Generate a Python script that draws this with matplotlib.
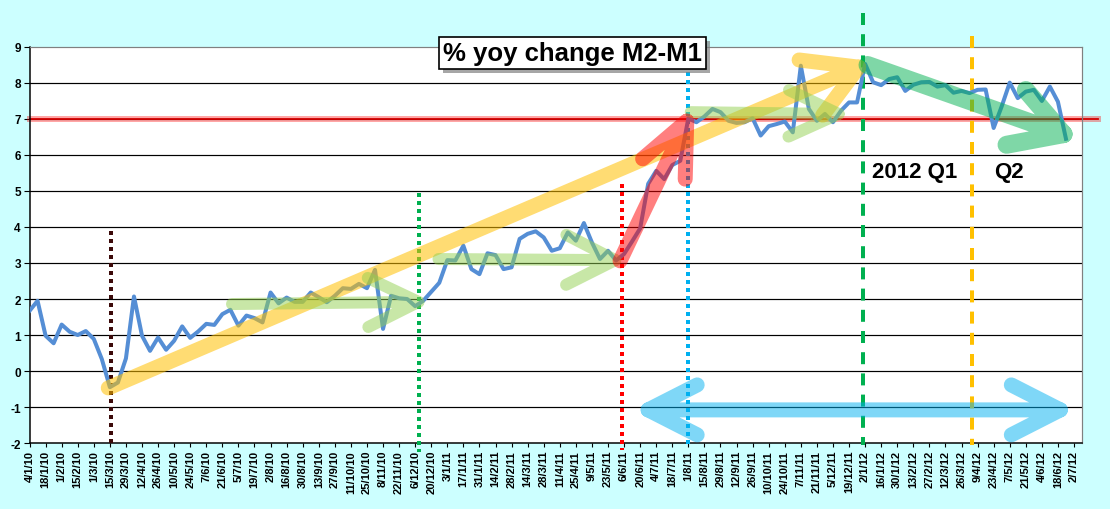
import numpy as np
import matplotlib.pyplot as plt
from matplotlib.path import Path
from matplotlib.patches import PathPatch
import matplotlib.patheffects as pe

plt.rcParams['font.family'] = ['Liberation Sans', 'DejaVu Sans']
plt.rcParams['axes.unicode_minus'] = False

# weekly observations, labels shown every 2nd week
week_labels = ["4/1/10", "18/1/10", "1/2/10", "15/2/10", "1/3/10", "15/3/10", "29/3/10",
               "12/4/10", "26/4/10", "10/5/10", "24/5/10", "7/6/10", "21/6/10", "5/7/10",
               "19/7/10", "2/8/10", "16/8/10", "30/8/10", "13/9/10", "27/9/10", "11/10/10",
               "25/10/10", "8/11/10", "22/11/10", "6/12/10", "20/12/10", "3/1/11", "17/1/11",
               "31/1/11", "14/2/11", "28/2/11", "14/3/11", "28/3/11", "11/4/11", "25/4/11",
               "9/5/11", "23/5/11", "6/6/11", "20/6/11", "4/7/11", "18/7/11", "1/8/11",
               "15/8/11", "29/8/11", "12/9/11", "26/9/11", "10/10/11", "24/10/11", "7/11/11",
               "21/11/11", "5/12/11", "19/12/11", "2/1/12", "16/1/12", "30/1/12", "13/2/12",
               "27/2/12", "12/3/12", "26/3/12", "9/4/12", "23/4/12", "7/5/12", "21/5/12",
               "4/6/12", "18/6/12", "2/7/12"]

m2_m1_yoy = [1.67, 1.95, 0.98, 0.77, 1.29, 1.09, 1.00, 1.11, 0.89, 0.33,
             -0.45, -0.32, 0.35, 2.07, 0.98, 0.56, 0.93, 0.59, 0.84, 1.24,
             0.92, 1.10, 1.31, 1.28, 1.58, 1.70, 1.26, 1.54, 1.47, 1.35,
             2.18, 1.88, 2.04, 1.92, 1.92, 2.18, 2.05, 1.91, 2.09, 2.30,
             2.28, 2.42, 2.30, 2.81, 1.17, 2.09, 2.02, 2.00, 1.80, 1.95,
             2.20, 2.45, 3.08, 3.07, 3.48, 2.83, 2.69, 3.27, 3.22, 2.83,
             2.88, 3.67, 3.81, 3.88, 3.71, 3.34, 3.41, 3.85, 3.62, 4.11,
             3.57, 3.11, 3.34, 3.07, 3.25, 3.60, 3.96, 5.20, 5.56, 5.33,
             5.72, 5.84, 7.02, 6.91, 7.07, 7.28, 7.19, 6.95, 6.89, 6.91,
             7.02, 6.54, 6.80, 6.86, 6.93, 6.63, 8.48, 7.28, 6.95, 7.14,
             6.91, 7.23, 7.46, 7.46, 8.53, 8.02, 7.94, 8.11, 8.16, 7.78,
             7.95, 8.02, 8.03, 7.90, 7.94, 7.73, 7.78, 7.72, 7.81, 7.82,
             6.75, 7.35, 8.01, 7.58, 7.76, 7.81, 7.50, 7.90, 7.48, 6.45]

DPI = 100
PX = 72 / DPI  # points per pixel

fig = plt.figure(figsize=(11.1, 5.1), dpi=DPI, facecolor='#CCFFFF')
ax = fig.add_axes([0.0266, 0.1294, 0.9482, 0.7765])
ax.set_facecolor('white')
ax.set_xlim(0, 131)
ax.set_ylim(-2, 9)

# grid + frame
for yv in range(-1, 9):
    ax.axhline(yv, color='black', lw=1.2 * PX, zorder=1)
for side in ('top', 'right'):
    ax.spines[side].set_color('#808080')
    ax.spines[side].set_linewidth(1.2 * PX)
for side in ('left', 'bottom'):
    ax.spines[side].set_color('black')
    ax.spines[side].set_linewidth(1.5 * PX)

ax.set_yticks(range(-2, 10))
ax.set_xticks(np.arange(0, 2 * len(week_labels), 2))
ax.set_xticklabels(week_labels, rotation=90, fontsize=8, fontweight='bold')
for t in ax.get_yticklabels():
    t.set_fontsize(8.5)
    t.set_fontweight('bold')
ax.tick_params(axis='y', direction='out', length=4.3, width=0.8, pad=2)
ax.tick_params(axis='x', direction='out', length=3, width=0.8, pad=2)

# 7% reference line
ax.plot([0, 133], [7, 7], color='#FF0000', alpha=0.35, lw=6 * PX, clip_on=False, zorder=2)
ax.plot([0, 133], [7, 7], color='#D40000', lw=1.8 * PX, clip_on=False, zorder=2)

# vertical markers
def vline(xv, y0, y1, color, dash):
    ax.plot([xv, xv], [y0, y1], color=color, lw=4 * PX, linestyle=(0, dash),
            solid_capstyle='butt', dash_capstyle='butt', clip_on=False, zorder=3)

vline(10.2, 3.9, -2.05, '#3C0A0A', (1, 1))
vline(48.5, 4.95, -2.25, '#00B050', (1, 1))
vline(73.7, 5.2, -2.2, '#FF0000', (1, 1))
vline(81.9, 8.3, -2.1, '#00B0F0', (1, 1))
vline(103.8, 9.95, -2.05, '#00B050', (3, 2.3))
vline(117.25, 9.3, -2.05, '#FFC000', (3, 2.3))

# data series
ax.plot(np.arange(len(m2_m1_yoy)), m2_m1_yoy, color='#558ED5', lw=4 * PX,
        solid_joinstyle='round', zorder=4)

fig.canvas.draw()


def open_arrow(start, tip, color, alpha, width, head_len, head_ang, both=False):
    tr = ax.transData
    p0 = tr.transform(start)
    p1 = tr.transform(tip)
    d = (p1 - p0) / np.hypot(*(p1 - p0))

    def head(tp, dv):
        pts = []
        for s in (1, -1):
            a = np.radians(s * head_ang)
            r = np.array([dv[0] * np.cos(a) - dv[1] * np.sin(a),
                          dv[0] * np.sin(a) + dv[1] * np.cos(a)])
            pts.append(tp - head_len * r)
        return pts

    verts = [p0, p1]
    codes = [Path.MOVETO, Path.LINETO]
    a1, a2 = head(p1, d)
    verts += [a1, p1, a2]
    codes += [Path.MOVETO, Path.LINETO, Path.LINETO]
    if both:
        b1, b2 = head(p0, -d)
        verts += [b1, p0, b2]
        codes += [Path.MOVETO, Path.LINETO, Path.LINETO]
    verts = tr.inverted().transform(np.array(verts))
    patch = PathPatch(Path(verts, codes), fill=False, edgecolor=color, alpha=alpha,
                      lw=width * PX, capstyle='round', joinstyle='round',
                      clip_on=False, zorder=5)
    ax.add_patch(patch)


open_arrow((9.8, -0.47), (103.2, 8.44), '#FFC000', 0.55, 15, 60, 30)
open_arrow((25.2, 1.86), (48.4, 1.92), '#92D050', 0.5, 12, 56, 26)
open_arrow((50.9, 3.11), (72.9, 3.08), '#92D050', 0.5, 12, 55, 27)
open_arrow((82.3, 7.19), (100.7, 7.14), '#92D050', 0.5, 12, 55, 25)
open_arrow((73.5, 3.06), (81.8, 6.94), '#FF0000', 0.5, 15, 58, 24)
open_arrow((104.3, 8.5), (128.7, 6.58), '#00B050', 0.5, 18, 58, 30)
open_arrow((77.0, -1.08), (128.3, -1.08), '#00B0F0', 0.5, 15, 55, 27, both=True)

# text labels
title = ax.text(67.6, 8.83, '% yoy change M2-M1', fontsize=18.5, fontweight='bold',
                ha='center', va='center', zorder=7,
                bbox=dict(boxstyle='square,pad=0.15', facecolor='white',
                          edgecolor='black', lw=1.2))
title.get_bbox_patch().set_path_effects(
    [pe.withSimplePatchShadow(offset=(3, -3), shadow_rgbFace='#808080', alpha=0.7)])

ax.text(104.9, 5.55, '2012 Q1', fontsize=16, fontweight='bold', ha='left',
        va='center', zorder=6)
ax.text(120.0, 5.55, 'Q2', fontsize=16, fontweight='bold', ha='left',
        va='center', zorder=6)

fig.savefig('out.png', dpi=DPI, facecolor=fig.get_facecolor())
